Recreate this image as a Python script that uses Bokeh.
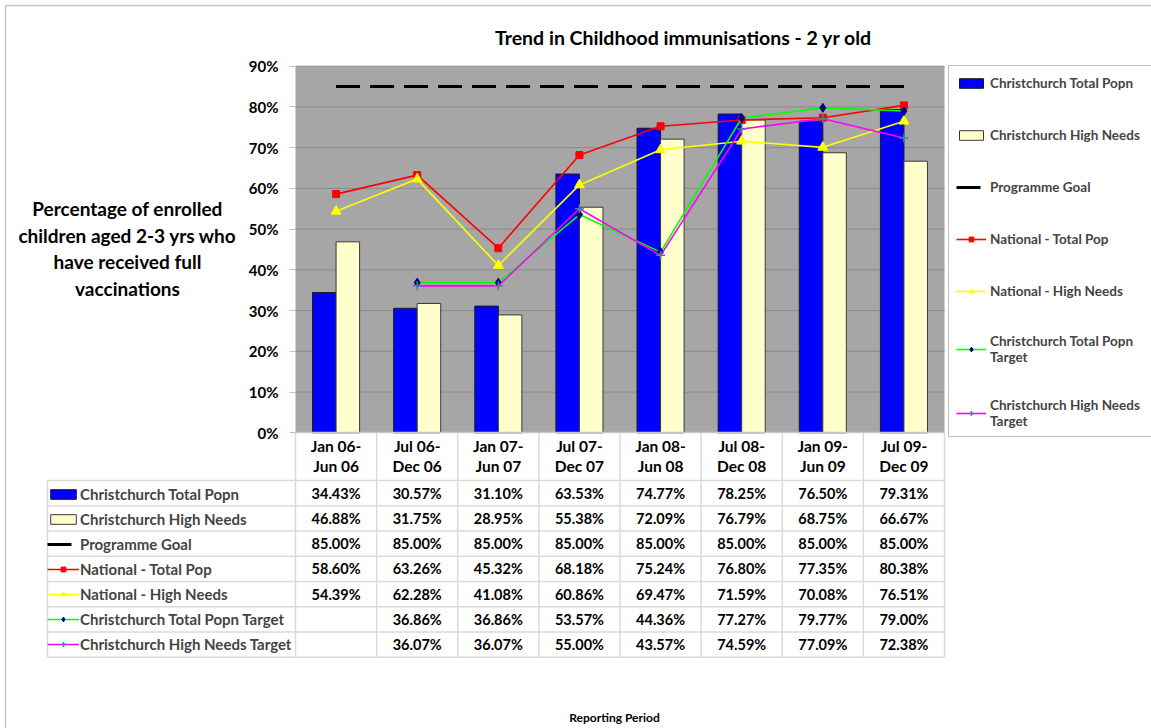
import math
from bokeh.plotting import figure
from bokeh.models import (Range1d, FixedTicker, PrintfTickFormatter, Label,
                          Legend, LegendItem, BoxAnnotation, ColumnDataSource)
from bokeh.core.properties import value
from bokeh.embed import file_html
from bokeh.resources import INLINE

NaN = float("nan")

categories = ["Jan 06-\nJun 06", "Jul 06-\nDec 06", "Jan 07-\nJun 07", "Jul 07-\nDec 07",
              "Jan 08-\nJun 08", "Jul 08-\nDec 08", "Jan 09-\nJun 09", "Jul 09-\nDec 09"]
chch_total = [34.43, 30.57, 31.10, 63.53, 74.77, 78.25, 76.50, 79.31]
chch_high = [46.88, 31.75, 28.95, 55.38, 72.09, 76.79, 68.75, 66.67]
goal = [85.00, 85.00, 85.00, 85.00, 85.00, 85.00, 85.00, 85.00]
nat_total = [58.60, 63.26, 45.32, 68.18, 75.24, 76.80, 77.35, 80.38]
nat_high = [54.39, 62.28, 41.08, 60.86, 69.47, 71.59, 70.08, 76.51]
chch_total_target = [NaN, 36.86, 36.86, 53.57, 44.36, 77.27, 79.77, 79.00]
chch_high_target = [NaN, 36.07, 36.07, 55.00, 43.57, 74.59, 77.09, 72.38]
y_ticks = [0, 10, 20, 30, 40, 50, 60, 70, 80, 90]

row_names = ["Christchurch Total Popn", "Christchurch High Needs", "Programme Goal",
             "National - Total Pop", "National - High Needs",
             "Christchurch Total Popn Target", "Christchurch High Needs Target"]
legend_names = ["Christchurch Total Popn", "Christchurch High Needs", "Programme Goal",
                "National - Total Pop", "National - High Needs",
                "Christchurch Total Popn\nTarget", "Christchurch High Needs\nTarget"]
series = [chch_total, chch_high, goal, nat_total, nat_high, chch_total_target, chch_high_target]

FONT = "Lato"

# ---- layout in canvas pixels
W, H = 1151, 728
X0, Y0 = 295.0, 432.3          # canvas position of the plot-area origin (first category edge, 0%)
PX_X = 649.0 / len(categories)  # pixels per category
PX_Y = 366.6 / 90.0             # pixels per percentage point


def dx(px):
    return (px - X0) / PX_X


def dy(py):
    return (Y0 - py) / PX_Y


xpos = [i + 0.5 for i in range(len(categories))]

src = ColumnDataSource(dict(x=xpos, ct=chch_total, ch=chch_high, goal=goal,
                            nt=nat_total, nh=nat_high, tt=chch_total_target, ht=chch_high_target))

p = figure(x_range=Range1d(dx(0), dx(W)), y_range=Range1d(dy(H), dy(0)),
           width=W, height=H, min_border=0,
           output_backend="svg", toolbar_location=None)
p.background_fill_color = "white"
p.border_fill_color = "white"
p.outline_line_color = None
p.xgrid.visible = False
p.ygrid.visible = False

# plot area background and gridlines
p.quad(left=[0], right=[len(categories)], bottom=[0], top=[90], fill_color="#A6A6A6",
       line_color=None, level="image")
p.segment(x0=[0] * (len(y_ticks) - 1), x1=[len(categories)] * (len(y_ticks) - 1),
          y0=y_ticks[1:], y1=y_ticks[1:], line_color="#8A8A8A", line_width=1, level="underlay")

# axes fixed at the plot-area edges
p.yaxis.fixed_location = 0
p.yaxis.bounds = (0, 90)
p.yaxis.ticker = FixedTicker(ticks=y_ticks)
p.yaxis.formatter = PrintfTickFormatter(format="%d%%")
p.yaxis.major_label_text_font = FONT
p.yaxis.major_label_text_font_style = "bold"
p.yaxis.major_label_text_font_size = "15px"
p.yaxis.major_label_text_color = "black"
p.yaxis.major_tick_out = 6
p.yaxis.major_tick_in = 0
p.yaxis.minor_tick_line_color = None
p.yaxis.major_tick_line_color = "#C0C0C0"
p.yaxis.axis_line_color = None
p.yaxis.major_label_standoff = 11

p.xaxis.fixed_location = 0
p.xaxis.bounds = (0, len(categories))
p.xaxis.ticker = FixedTicker(ticks=xpos)
p.xaxis.major_label_overrides = {x: c for x, c in zip(xpos, categories)}
p.xaxis.axis_line_color = "#C8C8C8"
p.xaxis.axis_line_width = 1.5
p.xaxis.major_tick_line_color = None
p.xaxis.minor_tick_line_color = None
p.xaxis.major_label_text_font = FONT
p.xaxis.major_label_text_font_style = "bold"
p.xaxis.major_label_text_font_size = "15.5px"
p.xaxis.major_label_text_color = "black"
p.xaxis.major_label_text_line_height = 1.1
p.xaxis.major_label_standoff = -2

# series
BW = 0.29
r_ct = p.vbar(x=[x - BW / 2 for x in xpos], top=chch_total, width=BW,
              fill_color="#0000FF", line_color="#1A1A1A", line_width=1)
r_ch = p.vbar(x=[x + BW / 2 for x in xpos], top=chch_high, width=BW,
              fill_color="#FFFFCC", line_color="#3A3A3A", line_width=1)
r_goal = p.line("x", "goal", source=src, line_color="black", line_width=3, line_dash="24 10")
r_nt_l = p.line("x", "nt", source=src, line_color="#FF0000", line_width=1.6)
r_nt_m = p.scatter("x", "nt", source=src, marker="square", size=7, color="#FF0000")
r_nh_l = p.line("x", "nh", source=src, line_color="#FFFF00", line_width=1.6)
r_nh_m = p.scatter("x", "nh", source=src, marker="triangle", size=10, color="#FFFF00")
r_tt_l = p.line("x", "tt", source=src, line_color="#00FF00", line_width=1.6)
r_tt_m = p.scatter("x", "tt", source=src, marker="diamond", size=9, color="#000080")
r_ht_l = p.line("x", "ht", source=src, line_color="#FF00FF", line_width=1.6)
r_ht_m = p.scatter("x", "ht", source=src, marker="cross", size=9, line_color="#3A8A9A",
                   line_width=1.5)

rend_groups = [[r_ct], [r_ch], [r_goal], [r_nt_l, r_nt_m], [r_nh_l, r_nh_m],
               [r_tt_l, r_tt_m], [r_ht_l, r_ht_m]]

# outer chart border (left and top edges visible)
p.add_layout(BoxAnnotation(left=5, right=5000, top=H - 5, bottom=-5000,
                           left_units="screen", right_units="screen", top_units="screen",
                           bottom_units="screen", fill_color=None, line_color="#404040",
                           line_width=1.5))

# ---- data table
ROW_TOP = 480.0
ROW_H = 25.24
TABLE_L = 47.0
TABLE_B = ROW_TOP + ROW_H * len(row_names)
GRID = "#DADADA"

hx0, hx1, hy0, hy1 = [], [], [], []
for r in range(len(row_names) + 1):
    yy = dy(ROW_TOP + r * ROW_H)
    hx0.append(dx(TABLE_L)); hx1.append(len(categories)); hy0.append(yy); hy1.append(yy)
p.segment(x0=hx0, x1=hx1, y0=hy0, y1=hy1, line_color=GRID, line_width=1.5)
vx = [float(c) for c in range(len(categories) + 1)]
p.segment(x0=vx, x1=vx, y0=[0] * len(vx), y1=[dy(TABLE_B)] * len(vx), line_color=GRID, line_width=1.5)
p.segment(x0=[dx(TABLE_L)], x1=[dx(TABLE_L)], y0=[dy(ROW_TOP)], y1=[dy(TABLE_B)],
          line_color=GRID, line_width=1.5)

cx, cy, ct = [], [], []
for r, vals in enumerate(series):
    for x, v in zip(xpos, vals):
        if isinstance(v, float) and math.isnan(v):
            continue
        cx.append(x)
        cy.append(dy(ROW_TOP + (r + 0.5) * ROW_H))
        ct.append(f"{v:.2f}%")
p.text(x=cx, y=cy, text=ct, text_align="center", text_baseline="middle",
       text_font=value(FONT), text_font_style="bold", text_font_size="14.5px", text_color="black")

legend_t = Legend(items=[LegendItem(label=n, renderers=r) for n, r in zip(row_names, rend_groups)],
                  location=(TABLE_L, H - TABLE_B), margin=0, padding=0, spacing=0,
                  label_height=25, glyph_height=12, glyph_width=32, label_standoff=1,
                  label_text_font=FONT, label_text_font_style="bold", label_text_font_size="15px",
                  border_line_color=None, background_fill_alpha=0)
p.add_layout(legend_t)

# ---- right legend
legend_r = Legend(items=[LegendItem(label=n, renderers=r) for n, r in zip(legend_names, rend_groups)],
                  location=(948, H - 437), margin=0, padding=7, spacing=32,
                  label_height=20, glyph_height=12, glyph_width=30, label_standoff=4,
                  label_width=190,
                  label_text_font=FONT, label_text_font_style="bold", label_text_font_size="13.5px",
                  label_text_line_height=1.55,
                  border_line_color="#808080", border_line_width=1, background_fill_color="white",
                  background_fill_alpha=1)
p.add_layout(legend_r)

# ---- texts
p.add_layout(Label(x=683, y=H - 37, x_units="screen", y_units="screen",
                   text="Trend in Childhood immunisations - 2 yr old", text_align="center",
                   text_baseline="middle", text_font=FONT, text_font_style="bold",
                   text_font_size="19.5px", text_color="black"))
p.add_layout(Label(x=127, y=H - 248, x_units="screen", y_units="screen",
                   text="Percentage of enrolled\nchildren aged 2-3 yrs who\nhave received full\nvaccinations",
                   text_align="center", text_baseline="middle", text_font=FONT,
                   text_font_style="bold", text_font_size="19px", text_line_height=1.15,
                   text_color="black"))
p.add_layout(Label(x=614, y=H - 717, x_units="screen", y_units="screen",
                   text="Reporting Period", text_align="center", text_baseline="middle",
                   text_font=FONT, text_font_style="bold", text_font_size="12px",
                   text_color="black"))

open("out.html", "w").write(file_html(p, INLINE))
